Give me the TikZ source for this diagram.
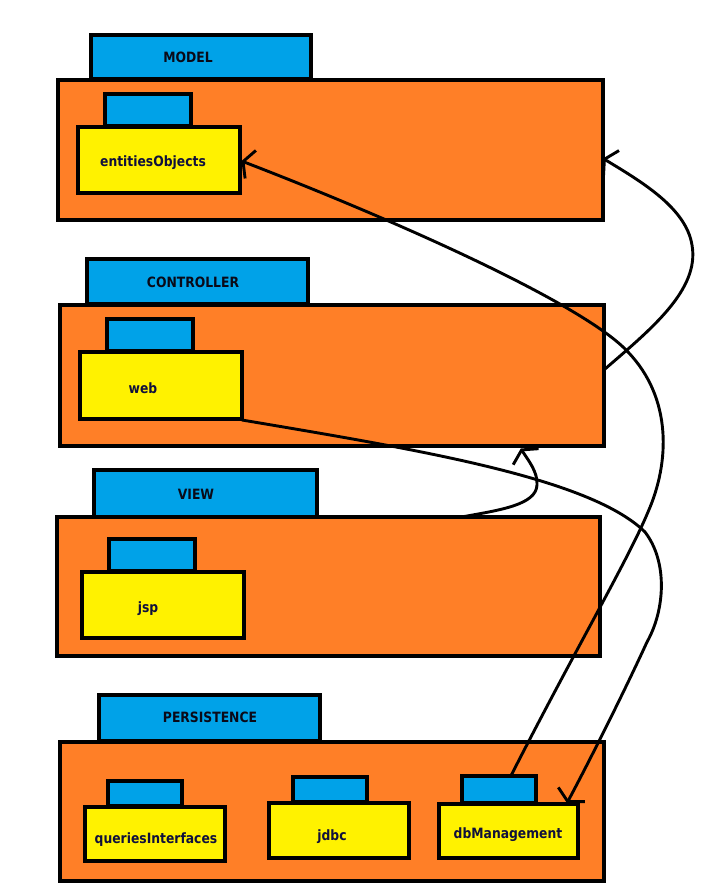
\documentclass[tikz,border=0pt]{standalone}
\usepackage{fontspec}
\setmainfont{DejaVu Sans}[FakeStretch=0.87]
\usetikzlibrary{fit,arrows.meta,calc}
\definecolor{pkgorange}{RGB}{255,127,39}
\definecolor{pkgblue}{RGB}{0,162,232}
\definecolor{pkgyellow}{RGB}{255,242,0}
\definecolor{labelnavy}{RGB}{16,16,60}
\definecolor{tabink}{RGB}{10,10,24}
\begin{document}
\begin{tikzpicture}[x=1pt,y=-1pt,
  box/.style={draw=black, line width=3.4pt, inner sep=0pt, outer sep=0pt},
  tabbox/.style={box, fill=pkgblue},
  bodybox/.style={box, fill=pkgorange},
  subbox/.style={box, fill=pkgyellow},
  tabtext/.style={anchor=base, inner sep=0pt, font=\bfseries\fontsize{14.2}{16}\selectfont, text=tabink},
  subtext/.style={tabtext, text=labelnavy},
  link/.style={line width=2.9pt, line cap=round, line join=round},
  arr/.style={link, -{Straight Barb[length=8pt,width=30pt]}}
]
\useasboundingbox (0,0) rectangle (722,895);
\fill[white] (0,0) rectangle (722,895);

% MODEL
\node[tabbox, fit={(91,35) (311,79)}] (mtab) {};
\node[bodybox, fit={(58,80) (603,220)}] (mbody) {};
\node[tabbox, fit={(105,94) (191,126)}] (eotab) {};
\node[subbox, fit={(78,127) (240,193)}] (eo) {};
\node[tabtext] (mlabel) at (188,62) {MODEL};
\node[subtext] (eolabel) at (153,166.5) {entitiesObjects};

% CONTROLLER
\node[tabbox, fit={(87,259) (308,304)}] (ctab) {};
\node[bodybox, fit={(60,305) (604,446)}] (cbody) {};
\node[tabbox, fit={(107,319) (193,351)}] (webtab) {};
\node[subbox, fit={(80,352) (242,419)}] (web) {};
\node[tabtext] (clabel) at (193,287) {CONTROLLER};
\node[subtext] (weblabel) at (143,393) {web};

% VIEW
\node[tabbox, fit={(94,470) (317,517)}] (vtab) {};
\node[bodybox, fit={(57,517) (600,656)}] (vbody) {};
\node[tabbox, fit={(109,539) (195,571)}] (jsptab) {};
\node[subbox, fit={(82,572) (244,638)}] (jsp) {};
\node[tabtext] (vlabel) at (196,499) {VIEW};
\node[subtext] (jsplabel) at (148,612) {jsp};

% PERSISTENCE
\node[tabbox, fit={(99,695) (320,741)}] (ptab) {};
\node[bodybox, fit={(60,742) (604,881)}] (pbody) {};
\node[tabbox, fit={(108,781) (182,806)}] (qitab) {};
\node[subbox, fit={(85,807) (225,861)}] (qi) {};
\node[tabbox, fit={(293,777) (367,802)}] (jdbctab) {};
\node[subbox, fit={(269,803) (409,858)}] (jdbc) {};
\node[tabbox, fit={(462,776) (536,803)}] (dbmtab) {};
\node[subbox, fit={(439,804) (578,858)}] (dbm) {};
\node[tabtext] (plabel) at (210,722) {PERSISTENCE};
\node[subtext] (qilabel) at (156,843) {queriesInterfaces};
\node[subtext] (jdbclabel) at (332,840) {jdbc};
\node[subtext] (dbmlabel) at (508,838) {dbManagement};

% connector end points
\coordinate (dbmtop) at ($(dbmtab.north west)!0.66!(dbmtab.north east)$);
\coordinate (dbmin) at ($(dbm.north east)+(-11,-1)$);
\coordinate (cright) at ($(cbody.north east)!0.46!(cbody.south east)$);
\coordinate (mright) at ($(mbody.north east)!0.56!(mbody.south east)$);
\coordinate (vtop) at ($(vbody.north west)!0.745!(vbody.north east)$);
\coordinate (cbottom) at ($(cbody.south west)!0.847!(cbody.south east)+(0,2.5)$);
\coordinate (eoright) at ($(eo.east)+(1.5,1)$);
\coordinate (webcorner) at ($(web.south east)+(0,1)$);

% connectors
\draw[arr] (dbmtop) .. controls (575,650) and (628,560) .. (648,512)
  .. controls (670,462) and (672,398) .. (628,352)
  .. controls (585,305) and (400,222) .. (eoright);
\draw[arr] (cright) .. controls (650,330) and (700,290) .. (692,245)
  .. controls (686,208) and (642,182) .. (mright);
\draw[arr] (webcorner) .. controls (420,450) and (590,478) .. (645,532)
  .. controls (668,562) and (665,610) .. (647,642)
  .. controls (625,690) and (590,760) .. (dbmin);
\draw[arr] (vtop) .. controls (500,510) and (536,505) .. (537,485)
  .. controls (538,472) and (528,460) .. (cbottom);
\end{tikzpicture}
\end{document}
